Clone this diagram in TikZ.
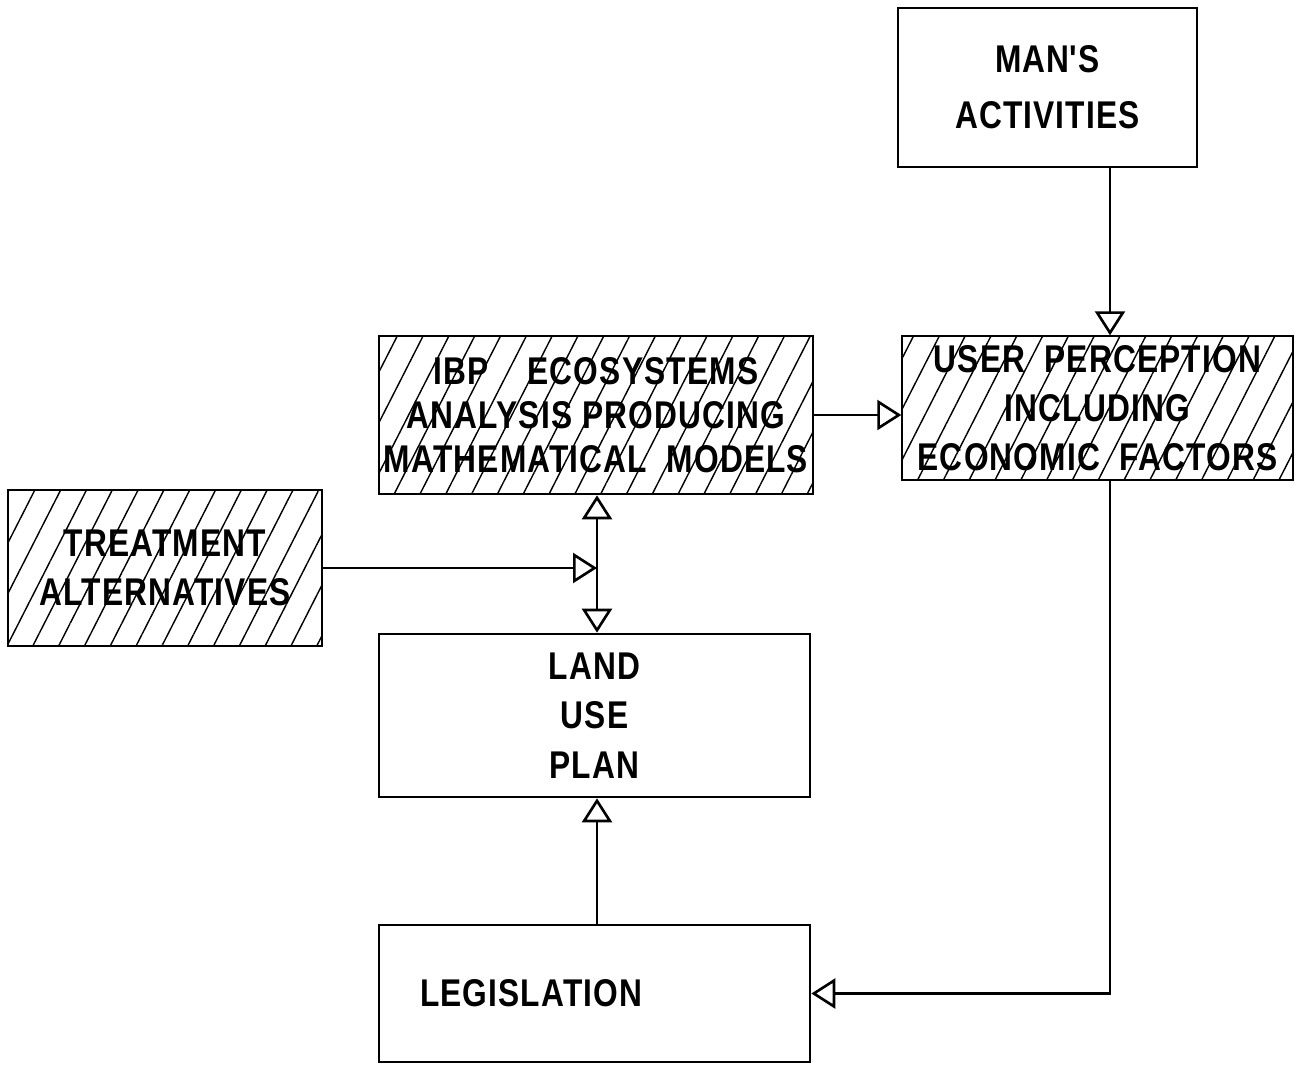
\documentclass[tikz,border=0pt]{standalone}
\usepackage{fontspec}
\setmainfont{Liberation Sans}[FakeStretch=0.82, LetterSpace=3]
\usetikzlibrary{arrows.meta,patterns.meta}

\tikzset{
  box/.style={draw, line width=0.75pt, align=center, inner sep=0pt, font=\fontsize{11}{14}\selectfont\bfseries},
  hatched/.style={box, pattern={Lines[angle=63, distance=0.23cm, line width=0.4pt]}},
  flow/.style={line width=0.75pt, -{Triangle[open, length=0.24cm, width=0.3cm, fill=white]}},
  twoway/.style={line width=0.75pt, {Triangle[open, length=0.24cm, width=0.3cm, fill=white]}-{Triangle[open, length=0.24cm, width=0.3cm, fill=white]}}
}

\begin{document}
\begin{tikzpicture}
\useasboundingbox (0,0) rectangle (12.96,-10.65);
\coordinate (spine) at (5.97,0);
\coordinate (rightbus) at (11.10,0);

\node[box, minimum width=2.99cm, minimum height=1.59cm] (mans) at (10.475,-0.875) {MAN\textquotesingle S\\[2pt]ACTIVITIES};
\node[hatched, minimum width=3.91cm, minimum height=1.44cm] (user) at (10.975,-4.08) {USER\enspace PERCEPTION\\INCLUDING\\ECONOMIC\enspace FACTORS};
\node[hatched, minimum width=4.34cm, minimum height=1.58cm, font=\fontsize{11}{12.5}\selectfont\bfseries] (ibp) at (5.96,-4.15) {IBP\quad ECOSYSTEMS\\ANALYSIS PRODUCING\\MATHEMATICAL\enspace MODELS};
\node[hatched, minimum width=3.14cm, minimum height=1.56cm] (treat) at (1.65,-5.68) {TREATMENT\\ALTERNATIVES};
\node[box, minimum width=4.31cm, minimum height=1.63cm] (land) at (5.945,-7.155) {LAND\\USE\\PLAN};
\node[box, minimum width=4.31cm, minimum height=1.37cm, text width=3.49cm, inner xsep=0.41cm, align=left] (legis) at (5.945,-9.935) {LEGISLATION};

\coordinate (join) at (treat.east -| spine);

\draw[flow] (mans.south -| rightbus) -- (user.north -| rightbus);
\draw[flow] (ibp.east) -- (ibp.east -| user.west);
\draw[twoway] (ibp.south -| spine) -- (land.north -| spine);
\draw[flow] (treat.east) -- (join);
\draw[flow] (legis.north -| spine) -- (land.south -| spine);
\draw[flow] (user.south -| rightbus) |- (legis.east);
\end{tikzpicture}
\end{document}
